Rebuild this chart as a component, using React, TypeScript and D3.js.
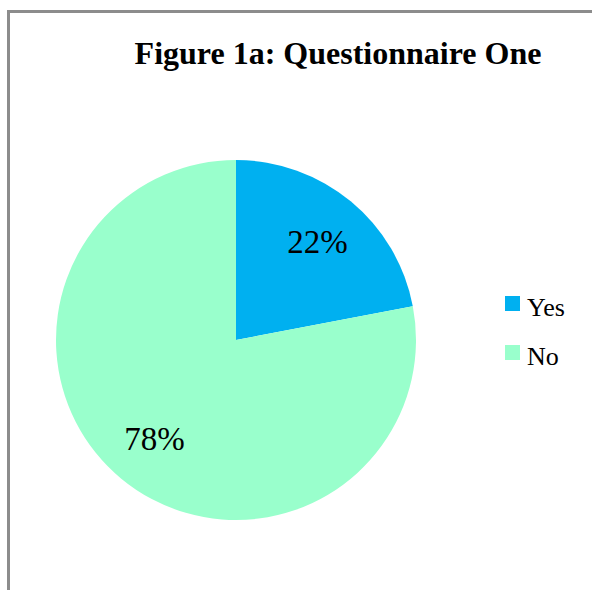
import React, { useRef, useEffect } from "react";
import * as d3 from "d3";

const categories = ["Yes", "No"];
const values = [22, 78];
const colors = ["#00B0F0", "#99FFCC"];
const title = "Figure 1a: Questionnaire One";

const W = 592;
const H = 590;
const font = "'Liberation Serif', 'Times New Roman', serif";

const App = () => {
  const ref = useRef<SVGSVGElement>(null);

  useEffect(() => {
    const svg = d3.select(ref.current);
    svg.selectAll("*").remove();

    // frame, runs off the right and bottom edge
    svg.append("rect")
      .attr("x", 8.5).attr("y", 11.5)
      .attr("width", W + 20).attr("height", H + 20)
      .attr("fill", "white")
      .attr("stroke", "#8c8c8c")
      .attr("stroke-width", 3);

    svg.append("text")
      .attr("x", 338).attr("y", 64)
      .attr("text-anchor", "middle")
      .attr("font-family", font)
      .attr("font-weight", "bold")
      .attr("font-size", 32)
      .text(title);

    const cx = 236, cy = 340, r = 180;
    const pie = d3.pie<number>().sort(null).value(d => d);
    const arcs = pie(values);
    const arc = d3.arc<d3.PieArcDatum<number>>().innerRadius(0).outerRadius(r);

    const g = svg.append("g").attr("transform", `translate(${cx}, ${cy})`);
    g.selectAll("path")
      .data(arcs)
      .join("path")
      .attr("d", arc)
      .attr("fill", (d, i) => colors[i]);

    const labelArc = d3.arc<d3.PieArcDatum<number>>().innerRadius(r * 0.71).outerRadius(r * 0.71);
    g.selectAll("text")
      .data(arcs)
      .join("text")
      .attr("transform", d => {
        const [x, y] = labelArc.centroid(d);
        return `translate(${x}, ${y})`;
      })
      .attr("text-anchor", "middle")
      .attr("dy", "0.35em")
      .attr("font-family", font)
      .attr("font-size", 33)
      .text(d => `${d.data}%`);

    const legend = svg.append("g").attr("transform", "translate(505, 296)");
    const items = legend.selectAll("g")
      .data(categories)
      .join("g")
      .attr("transform", (d, i) => `translate(0, ${i * 49})`);
    items.append("rect")
      .attr("width", 15).attr("height", 15)
      .attr("fill", (d, i) => colors[i]);
    items.append("text")
      .attr("x", 22).attr("y", 20)
      .attr("font-family", font)
      .attr("font-size", 26)
      .text(d => d);
  }, []);

  return (
    <svg ref={ref} width={W} height={H} style={{ position: "absolute", left: 0, top: 0 }}></svg>
  );
};

export default App;
